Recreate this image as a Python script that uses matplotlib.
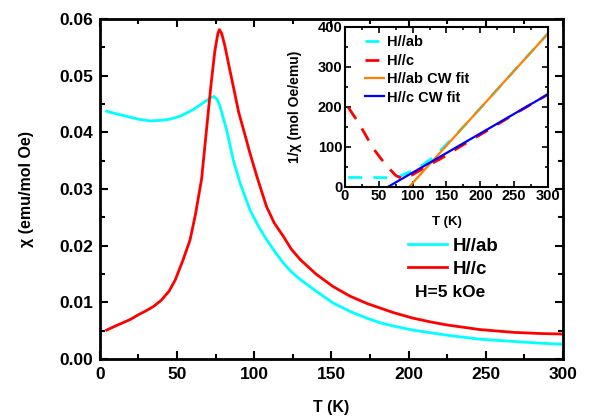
import matplotlib.pyplot as plt
from matplotlib.ticker import MultipleLocator
from matplotlib.lines import Line2D

plt.rcParams['font.family'] = 'Liberation Sans'
plt.rcParams['font.weight'] = 'bold'

# main panel: chi(T)
T_ab = [4.5, 10, 17.5, 25, 32.6, 40, 45.5, 52, 60.6, 66, 69.3, 72, 74, 76, 78, 80,
        82.2, 86.5, 90.9, 97.3, 103, 108.2, 113, 119, 124, 130, 140, 151, 162, 173,
        181.5, 192, 203, 215, 225, 246, 268, 285, 300]
chi_ab = [0.0437, 0.0433, 0.0428, 0.0423, 0.0420, 0.0421, 0.0423, 0.0428, 0.0440,
          0.0450, 0.0456, 0.0461, 0.0463, 0.0458, 0.0445, 0.0425, 0.0404, 0.0351,
          0.0310, 0.0263, 0.0233, 0.0210, 0.0191, 0.0169, 0.0154, 0.0140, 0.0120,
          0.0099, 0.0084, 0.0072, 0.0064, 0.0057, 0.0051, 0.0046, 0.0042, 0.0035,
          0.0031, 0.0028, 0.0026]
T_c = [4.5, 10, 15, 20, 25, 30, 35, 40, 45, 49, 54, 58.5, 62, 66, 69, 72, 74.5,
       76.5, 77.5, 79, 81, 84, 86.5, 90, 94, 97.3, 102, 108, 113, 119, 124, 130,
       140, 151, 162, 173, 181.5, 190, 203, 215, 225, 246, 268, 285, 300]
chi_c = [0.0051, 0.0058, 0.0064, 0.0070, 0.0078, 0.0085, 0.0093, 0.0104, 0.0120,
         0.0140, 0.0175, 0.0210, 0.0255, 0.0318, 0.0400, 0.0482, 0.0542, 0.0574,
         0.0581, 0.0574, 0.0553, 0.0513, 0.0481, 0.0435, 0.0396, 0.0363, 0.0320,
         0.0269, 0.0240, 0.0216, 0.0194, 0.0175, 0.0150, 0.0128, 0.0111, 0.0098,
         0.0090, 0.0082, 0.0072, 0.0065, 0.0060, 0.0052, 0.0047, 0.0045, 0.0044]

# inset: 1/chi and Curie-Weiss fits
Ti_ab = [5, 20, 40, 60, 75, 90, 100, 110, 125, 130, 150, 175, 200, 250, 300]
inv_ab = [23, 23, 23, 22.5, 22, 33, 40, 48, 67, 73, 106, 150, 196, 290, 383]
Ti_c = [5, 20, 42, 60, 75, 85, 100, 125, 150, 165, 200, 250, 300]
inv_c = [198, 160, 95, 55, 28, 20, 30, 55, 78, 95, 130, 181, 231]
Tfit_ab = [95, 300]
fit_ab = [0, 383]
Tfit_c = [64, 300]
fit_c = [0, 231]

fig = plt.figure(figsize=(5.89, 4.2), dpi=100)
ax = fig.add_axes([0.1693, 0.1452, 0.7865, 0.81])
ax.plot(T_ab, chi_ab, color='#00ffff', lw=2.0)
ax.plot(T_c, chi_c, color='red', lw=2.0)
ax.set_xlim(0, 300)
ax.set_ylim(0, 0.06)
ax.xaxis.set_major_locator(MultipleLocator(50))
ax.xaxis.set_minor_locator(MultipleLocator(25))
ax.yaxis.set_major_locator(MultipleLocator(0.01))
ax.yaxis.set_minor_locator(MultipleLocator(0.005))
ax.yaxis.set_major_formatter(plt.FormatStrFormatter('%.2f'))
ax.tick_params(which='both', direction='in', top=True, right=True, width=1.5, labelsize=12.5)
ax.tick_params(which='major', length=6)
ax.tick_params(which='minor', length=3.5)
ax.tick_params(axis='x', pad=6)
ax.tick_params(axis='y', pad=5)
for s in ax.spines.values():
    s.set_linewidth(2)
ax.set_xlabel('T (K)', fontsize=11.5, fontweight='bold', labelpad=13)
ax.set_ylabel('χ (emu/mol Oe)', fontsize=11.5, fontweight='bold', labelpad=18)

handles = [Line2D([], [], color='#00ffff', lw=2), Line2D([], [], color='red', lw=2)]
ax.legend(handles, ['H//ab', 'H//c'], loc='center left', bbox_to_anchor=(0.6655, 0.298),
          frameon=False, fontsize=13.5, handlelength=2.1, handletextpad=0.27,
          labelspacing=0.3, borderaxespad=0, borderpad=0)
ax.text(0.6806, 0.196, 'H=5 kOe', transform=ax.transAxes, fontsize=12.5, fontweight='bold',
        va='center')

# inset
ins = fig.add_axes([0.5857, 0.5555, 0.3447, 0.381])
ins.plot(Ti_ab, inv_ab, color='#00ffff', lw=2, ls=(0, (5, 4)), label='H//ab')
ins.plot(Ti_c, inv_c, color='red', lw=2, ls=(0, (5, 4)), label='H//c')
ins.plot(Tfit_ab, fit_ab, color='#ff8000', lw=1.6, label='H//ab CW fit')
ins.plot(Tfit_c, fit_c, color='blue', lw=1.6, label='H//c CW fit')
ins.set_xlim(0, 300)
ins.set_ylim(0, 400)
ins.xaxis.set_major_locator(MultipleLocator(50))
ins.xaxis.set_minor_locator(MultipleLocator(25))
ins.yaxis.set_major_locator(MultipleLocator(100))
ins.yaxis.set_minor_locator(MultipleLocator(50))
ins.tick_params(which='both', direction='in', top=True, right=True, width=1.2,
                labelsize=10.5, pad=2)
ins.tick_params(which='major', length=4)
ins.tick_params(which='minor', length=2.5)
for s in ins.spines.values():
    s.set_linewidth(1.5)
ins.set_xlabel('T (K)', fontsize=9.5, fontweight='bold', labelpad=9)
ins.set_ylabel('1/χ (mol Oe/emu)', fontsize=10, fontweight='bold', labelpad=11)
ins.legend(loc='upper left', bbox_to_anchor=(0.0985, 0.945), frameon=False,
           fontsize=10.5, handlelength=1.3, handletextpad=0.2, labelspacing=0.3,
           borderaxespad=0, borderpad=0)

fig.savefig('out.png', dpi=100)
